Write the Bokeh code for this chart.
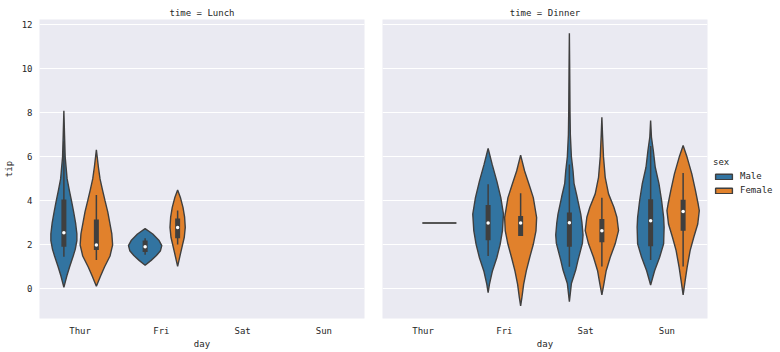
from bokeh.plotting import figure
from bokeh.layouts import row
from bokeh.models import Range1d, FixedTicker, Legend, LegendItem
from bokeh.embed import file_html
from bokeh.resources import INLINE

days = ["Thur", "Fri", "Sat", "Sun"]
sexes = ["Male", "Female"]
times = ["Lunch", "Dinner"]
y_ticks = [0, 2, 4, 6, 8, 10, 12]

# violin outlines: tip values and half widths (category units)
lunch_thur_male_tip = [8.1, 7.0, 6.0, 5.0, 4.5, 4.0, 3.5, 3.0, 2.5, 2.2, 1.8, 1.5, 1.0, 0.6, 0.3, 0.08]
lunch_thur_male_w = [0.0, 0.008, 0.016, 0.04, 0.066, 0.094, 0.12, 0.144, 0.16, 0.16, 0.14, 0.115, 0.07, 0.037, 0.016, 0.0]
lunch_thur_male_box = [1.47, 1.92, 2.55, 4.07, 6.7]

lunch_thur_female_tip = [6.32, 5.53, 5.0, 4.5, 4.0, 3.5, 3.0, 2.5, 2.0, 1.5, 1.0, 0.6, 0.12]
lunch_thur_female_w = [0.0, 0.025, 0.045, 0.075, 0.107, 0.14, 0.165, 0.19, 0.2, 0.168, 0.1, 0.053, 0.0]
lunch_thur_female_box = [1.32, 1.77, 2.0, 3.16, 4.27]

lunch_fri_male_tip = [2.74, 2.5, 2.2, 1.97, 1.74, 1.52, 1.3, 1.08]
lunch_fri_male_w = [0.0, 0.094, 0.172, 0.205, 0.189, 0.139, 0.074, 0.0]
lunch_fri_male_box = [1.56, 1.68, 1.92, 2.2, 2.3]

lunch_fri_female_tip = [4.5, 4.17, 3.71, 3.26, 2.8, 2.35, 1.89, 1.44, 1.03]
lunch_fri_female_w = [0.0, 0.033, 0.066, 0.086, 0.094, 0.082, 0.053, 0.025, 0.0]
lunch_fri_female_box = [2.02, 2.3, 2.79, 3.2, 3.57]

dinner_fri_male_tip = [6.39, 5.67, 4.9, 4.15, 3.4, 2.64, 2.03, 1.42, 0.82, 0.21, -0.17]
dinner_fri_male_w = [0.0, 0.049, 0.107, 0.156, 0.189, 0.176, 0.148, 0.107, 0.053, 0.016, 0.0]
dinner_fri_male_box = [1.5, 2.21, 3.0, 3.82, 4.76]

dinner_fri_female_tip = [6.08, 5.36, 4.76, 4.15, 3.24, 2.64, 2.03, 1.42, 0.82, 0.21, -0.38, -0.77]
dinner_fri_female_w = [0.0, 0.049, 0.103, 0.156, 0.197, 0.189, 0.156, 0.111, 0.07, 0.037, 0.016, 0.0]
dinner_fri_female_box = [2.41, 2.41, 3.0, 3.32, 4.35]

dinner_sat_male_tip = [11.62, 10.0, 8.0, 7.0, 6.0, 5.36, 4.8, 4.2, 3.4, 3.0, 2.45, 2.07, 1.32, 0.86, 0.25, -0.58]
dinner_sat_male_w = [0.0, 0.004, 0.008, 0.012, 0.025, 0.045, 0.057, 0.094, 0.14, 0.155, 0.168, 0.16, 0.107, 0.078, 0.025, 0.0]
dinner_sat_male_box = [1.01, 1.92, 3.01, 3.47, 5.65]

dinner_sat_female_tip = [7.8, 7.0, 6.0, 5.07, 4.32, 3.71, 3.26, 2.65, 2.05, 1.44, 0.83, 0.23, -0.27]
dinner_sat_female_w = [0.0, 0.008, 0.02, 0.041, 0.082, 0.148, 0.185, 0.205, 0.164, 0.103, 0.053, 0.025, 0.0]
dinner_sat_female_box = [1.02, 2.12, 2.65, 3.18, 4.14]

dinner_sun_male_tip = [7.65, 6.9, 6.29, 5.53, 4.77, 4.02, 3.26, 2.8, 2.05, 1.44, 0.83, 0.18]
dinner_sun_male_w = [0.0, 0.01, 0.033, 0.057, 0.103, 0.135, 0.16, 0.166, 0.16, 0.111, 0.049, 0.0]
dinner_sun_male_box = [1.32, 1.94, 3.1, 4.08, 6.5]

dinner_sun_female_tip = [6.52, 5.98, 5.23, 4.47, 3.86, 3.56, 2.95, 2.35, 1.74, 0.98, 0.38, -0.27]
dinner_sun_female_w = [0.0, 0.049, 0.107, 0.152, 0.185, 0.199, 0.18, 0.131, 0.086, 0.049, 0.025, 0.0]
dinner_sun_female_box = [1.02, 2.65, 3.52, 4.05, 5.27]

# single observation (Thur dinner, Female)
dinner_thur_female_tip = 3.0

violins = [
    ("Lunch", "Thur", "Male", lunch_thur_male_tip, lunch_thur_male_w, lunch_thur_male_box),
    ("Lunch", "Thur", "Female", lunch_thur_female_tip, lunch_thur_female_w, lunch_thur_female_box),
    ("Lunch", "Fri", "Male", lunch_fri_male_tip, lunch_fri_male_w, lunch_fri_male_box),
    ("Lunch", "Fri", "Female", lunch_fri_female_tip, lunch_fri_female_w, lunch_fri_female_box),
    ("Dinner", "Fri", "Male", dinner_fri_male_tip, dinner_fri_male_w, dinner_fri_male_box),
    ("Dinner", "Fri", "Female", dinner_fri_female_tip, dinner_fri_female_w, dinner_fri_female_box),
    ("Dinner", "Sat", "Male", dinner_sat_male_tip, dinner_sat_male_w, dinner_sat_male_box),
    ("Dinner", "Sat", "Female", dinner_sat_female_tip, dinner_sat_female_w, dinner_sat_female_box),
    ("Dinner", "Sun", "Male", dinner_sun_male_tip, dinner_sun_male_w, dinner_sun_male_box),
    ("Dinner", "Sun", "Female", dinner_sun_female_tip, dinner_sun_female_w, dinner_sun_female_box),
]

COLORS = {"Male": "#3274A1", "Female": "#E1812C"}
OFFSET = {"Male": -0.2, "Female": 0.2}
EDGE = "#3f3f3f"
TEXT = "#262626"
FONT = "DejaVu Sans Mono"
FS = "9px"


def make_fig(time, left_border, right_border, show_y):
    p = figure(
        output_backend="svg", toolbar_location=None,
        frame_width=325, frame_height=299,
        min_border_left=left_border, min_border_right=right_border,
        min_border_top=19, min_border_bottom=34,
        x_range=Range1d(-0.5, 3.5), y_range=Range1d(-1.34, 12.24),
        title="time = " + time,
    )
    p.title.align = "center"
    p.title.text_font = FONT
    p.title.text_font_size = FS
    p.title.text_font_style = "normal"
    p.title.text_color = TEXT
    p.title.standoff = 4
    p.background_fill_color = "#EAEAF2"
    p.border_fill_color = "white"
    p.outline_line_color = None
    p.xgrid.grid_line_color = None
    p.ygrid.ticker = FixedTicker(ticks=y_ticks)
    p.ygrid.grid_line_color = "white"
    p.ygrid.grid_line_width = 1.2
    p.xaxis.ticker = FixedTicker(ticks=list(range(len(days))))
    p.xaxis.major_label_overrides = {i: d for i, d in enumerate(days)}
    p.xaxis.axis_label = "day"
    p.yaxis.ticker = FixedTicker(ticks=y_ticks)
    for ax in (p.xaxis[0], p.yaxis[0]):
        ax.axis_line_color = None
        ax.major_tick_line_color = None
        ax.minor_tick_line_color = None
        ax.major_tick_out = 0
        ax.major_tick_in = 0
        ax.minor_tick_out = 0
        ax.minor_tick_in = 0
        ax.major_label_text_font = FONT
        ax.major_label_text_font_size = FS
        ax.major_label_text_color = TEXT
        ax.axis_label_text_font = FONT
        ax.axis_label_text_font_size = FS
        ax.axis_label_text_font_style = "normal"
        ax.axis_label_text_color = TEXT
    p.xaxis.major_label_standoff = 7
    p.xaxis.axis_label_standoff = 0
    p.yaxis.major_label_standoff = 7
    p.yaxis.axis_label_standoff = 5
    if show_y:
        p.yaxis.axis_label = "tip"
    else:
        p.yaxis.major_label_text_font_size = "0px"
        p.yaxis.major_label_text_color = None
        p.yaxis.major_label_standoff = 0
    return p


p1 = make_fig("Lunch", 37, 8, True)
p2 = make_fig("Dinner", 10, 8, False)
figs = {"Lunch": p1, "Dinner": p2}

legend_renderers = {}
for time, day, sex, tip, w, box in violins:
    p = figs[time]
    c = days.index(day) + OFFSET[sex]
    xs = [c + v for v in w] + [c - v for v in reversed(w)]
    ys = list(tip) + list(reversed(tip))
    r = p.patch(xs, ys, fill_color=COLORS[sex], line_color=EDGE, line_width=1.4)
    if time == "Dinner":
        legend_renderers.setdefault(sex, r)
    lo, q1, med, q3, hi = box
    p.segment(x0=[c], y0=[lo], x1=[c], y1=[hi], line_color=EDGE, line_width=1.5)
    p.segment(x0=[c], y0=[q1], x1=[c], y1=[q3], line_color=EDGE, line_width=5)
    p.scatter([c], [med], size=3.5, fill_color="white", line_color=None)

# single observation drawn as a line
c = days.index("Thur") + OFFSET["Female"]
p2.segment(x0=[c - 0.21], y0=[dinner_thur_female_tip], x1=[c + 0.21], y1=[dinner_thur_female_tip],
           line_color="#555555", line_width=2)

legend = Legend(
    items=[LegendItem(label=s, renderers=[legend_renderers[s]]) for s in sexes],
    title="sex", location=(6, 123),
    label_text_font=FONT, label_text_font_size=FS, label_text_color=TEXT,
    title_text_font=FONT, title_text_font_size=FS, title_text_font_style="normal",
    title_text_color=TEXT, title_standoff=4,
    glyph_width=21, glyph_height=7, label_height=9, label_standoff=6, spacing=4,
    padding=0, margin=0, background_fill_alpha=0, border_line_color=None,
)
p2.add_layout(legend, "right")

layout = row(p1, p2)
open("out.html", "w").write(file_html(layout, INLINE))
